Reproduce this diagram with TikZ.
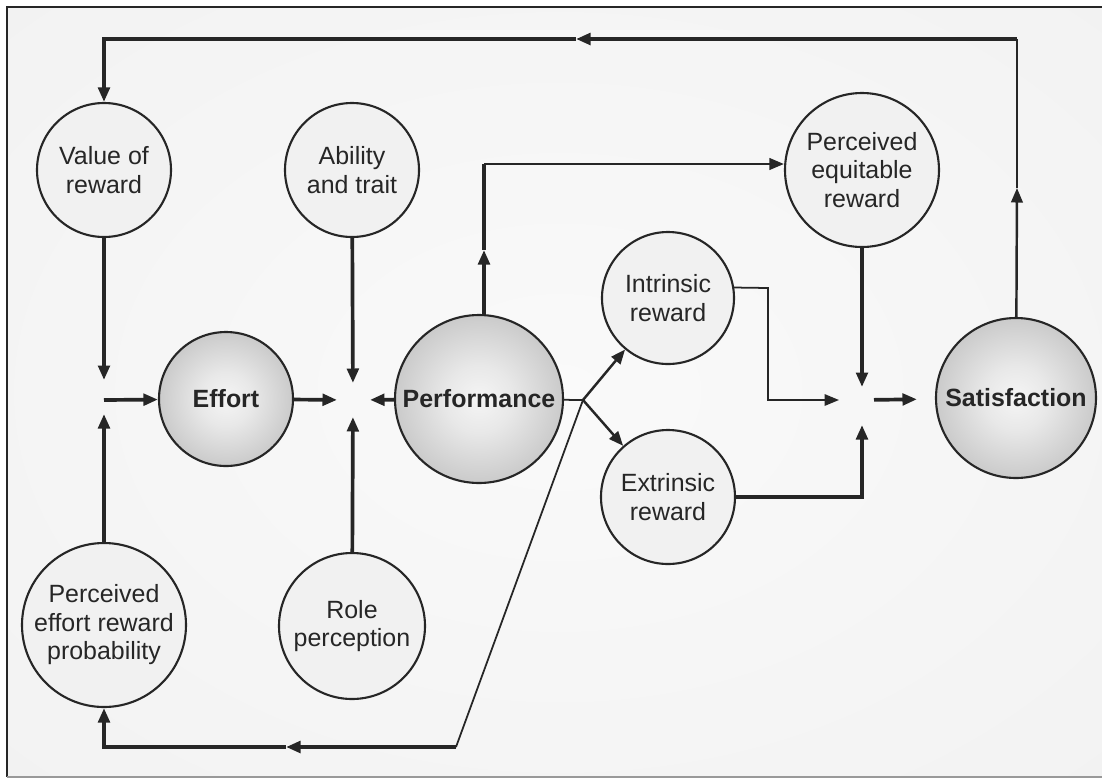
\documentclass[tikz,border=0pt]{standalone}
\usepackage{fontspec}
\setmainfont{Liberation Sans}
\definecolor{inkgray}{RGB}{38,38,38}
\definecolor{paper}{RGB}{241,241,241}
\usetikzlibrary{arrows.meta,shapes}
\newcommand{\modelfont}{\fontsize{7.1}{8.1}\selectfont}
\pgfdeclareradialshading{sphere}{\pgfpoint{0bp}{0bp}}{color(0bp)=(black!4); color(10bp)=(black!9); color(32bp)=(black!26); color(50bp)=(black!50)}
\pgfdeclareradialshading{backdrop}{\pgfpoint{0bp}{0bp}}{color(0bp)=(black!2); color(35bp)=(black!5); color(50bp)=(black!9); color(71bp)=(black!13)}
\tikzstyle{factor}=[circle,draw=inkgray,line width=0.6pt,fill=paper,inner sep=0pt,align=center,font=\modelfont,text=inkgray]
\tikzstyle{outcome}=[factor,shading=sphere,font=\modelfont\bfseries]
\tikzstyle{edge} = [draw,line width=1.05pt,-]
\tikzstyle{midedge} = [draw,line width=0.7pt,-]
\tikzstyle{thinedge} = [draw,line width=0.5pt,-]

\begin{document}
\begin{tikzpicture}[>={Triangle[length=1.45mm,width=1.15mm]},color=inkgray]

            % backdrop and frame
            \shade[shading=backdrop] (0.07,0.01) rectangle (11.12,7.71);
            \draw[line width=0.6pt] (11.12,7.71) -- (0.07,7.71) -- (0.07,0.01);
            \draw[black!40,line width=0.6pt] (0.07,0.01) -- (11.12,0.01);

            \node[factor,minimum size=1.34cm] (value) at (1.04,6.08) {Value of\\reward};
            \node[factor,minimum size=1.34cm] (ability) at (3.52,6.08) {Ability\\and trait};
            \node[factor,minimum size=1.54cm] (equit) at (8.62,6.08) {Perceived\\equitable\\reward};
            \node[factor,minimum size=1.32cm] (intr) at (6.68,4.80) {Intrinsic\\reward};
            \node[factor,minimum size=1.34cm] (extr) at (6.68,2.81) {Extrinsic\\reward};
            \node[factor,minimum size=1.64cm] (perceff) at (1.04,1.53) {Perceived\\effort reward\\probability};
            \node[factor,minimum size=1.46cm] (role) at (3.52,1.52) {Role\\perception};
            \node[outcome,minimum size=1.34cm] (effort) at (2.26,3.79) {Effort};
            \node[outcome,minimum size=1.68cm] (perf) at (4.79,3.79) {Performance};
            \node[outcome,minimum size=1.60cm] (satis) at (10.16,3.80) {Satisfaction};

            \coordinate (j1) at (1.04,3.78);
            \coordinate (j2) at (3.53,3.78);
            \coordinate (j3) at (8.62,3.78);
            \coordinate (br) at (5.83,3.78);
            \coordinate (bc) at (4.56,0.31);
            \coordinate (bm) at (2.86,0.31);
            \coordinate (bl) at (1.04,0.31);
            \coordinate (tr) at (10.17,7.39);
            \coordinate (tm) at (5.76,7.39);
            \coordinate (tl) at (1.04,7.39);
            \coordinate (sm) at (10.17,5.90);
            \coordinate (pm) at (4.84,5.28);
            \coordinate (pc) at (4.84,6.14);
            \coordinate (ic) at (7.68,4.90);

            % into effort
            \path[edge,->,shorten >=2mm] (value) -- (j1);
            \path[edge,->,shorten >=1.4mm] (perceff) -- (j1);
            \path[edge,->] (j1) -- (effort);

            % into performance
            \path[edge,->,shorten >=1.6mm] (effort) -- (j2);
            \path[edge,->,shorten >=1.7mm] (ability) -- (j2);
            \path[edge,->,shorten >=1.7mm] (role) -- (j2);
            \path[edge,->,shorten >=1.7mm] (perf) -- (j2);

            % performance to rewards
            \path[edge,->] (pc |- perf.north) -- (pm);
            \path[edge] (pm) -- (pc);
            \path[midedge,->] (pc) -- (pc -| equit.west);
            \path[thinedge] (perf) -- (br);
            \path[midedge,->] (br) -- (intr);
            \path[midedge,->] (br) -- (extr);

            % into satisfaction
            \path[thinedge,->,shorten >=2.3mm] (intr.9) -- (ic) -- (ic |- j3) -- (j3);
            \path[edge,->,shorten >=2.5mm] (extr) -| (j3);
            \path[edge,->,shorten >=1.3mm] (equit) -- (j3);
            \path[edge,->,shorten <=1.2mm,shorten >=1.8mm] (j3) -- (satis);

            % feedback loops
            \path[midedge,->] (satis) -- (sm);
            \path[midedge] (sm) -- (tr);
            \path[edge,->] (tr) -- (tm);
            \path[edge,->] (tm) -- (tl) -- (value);
            \path[thinedge] (br) -- (bc);
            \path[edge,->] (bc) -- (bm);
            \path[edge,->] (bm) -- (bl) -- (perceff);

            \pgfresetboundingbox
            \path [use as bounding box] (0,0) rectangle (11.02,7.78);
        \end{tikzpicture}
\end{document}
